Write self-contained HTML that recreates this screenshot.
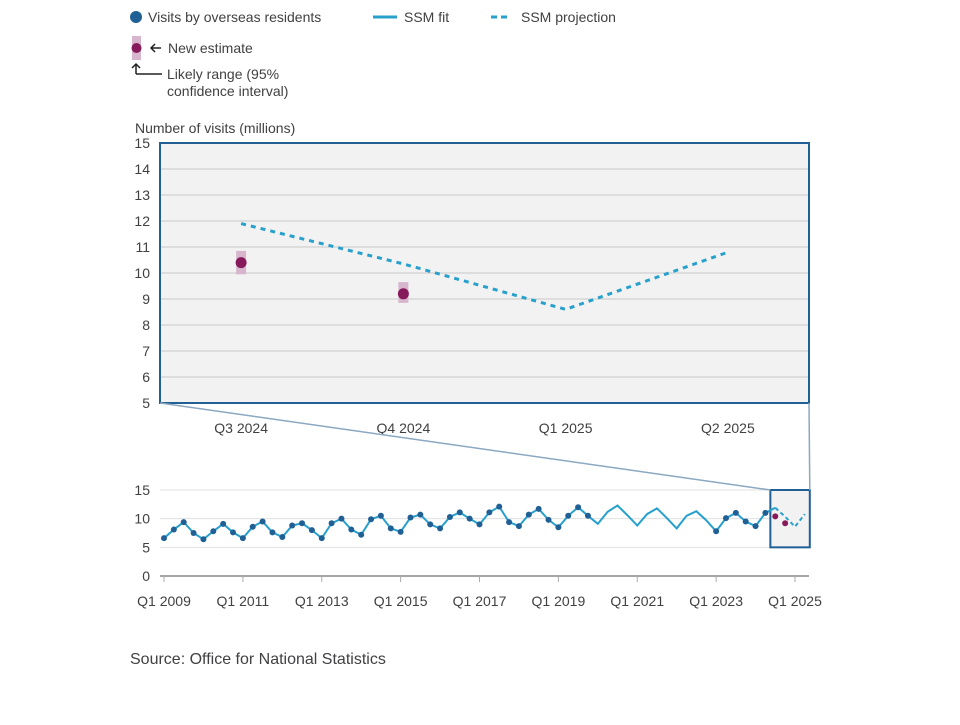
<!DOCTYPE html>
<html><head><meta charset="utf-8"><style>
body{margin:0;background:#fff;width:960px;height:720px;overflow:hidden;font-family:"Liberation Sans",sans-serif}
svg text{font-family:"Liberation Sans",sans-serif;fill:#414042}
</style></head><body>
<svg id="c" width="960" height="720"></svg>
<script>
const fitVals=[6.6,8.1,9.4,7.5,6.4,7.8,9.1,7.6,6.6,8.6,9.5,7.6,6.8,8.8,9.2,8.0,6.6,9.2,10.0,8.1,7.2,9.9,10.5,8.3,7.7,10.2,10.7,9.0,8.3,10.3,11.1,10.0,
9.0,11.1,12.1,9.4,8.7,10.7,11.7,9.8,8.5,10.5,12.0,10.5,9.1,11.2,12.3,10.6,8.8,10.8,11.8,10.1,8.3,10.5,11.3,9.7,7.8,10.1,11.0,9.5,8.7,11.0,11.9];
const observedFrom=[0,56];
const observedTo=[43,61];
const projVals=[11.9,10.35,8.6,10.8];
const estVals=[10.4,9.2];
const estLow=[9.95,8.85];
const estHigh=[10.85,9.65];
const topTicks=[5,6,7,8,9,10,11,12,13,14,15];
const topLabels=["Q3 2024","Q4 2024","Q1 2025","Q2 2025"];
const botTicks=[0,5,10,15];
const botLabels=["Q1 2009","Q1 2011","Q1 2013","Q1 2015","Q1 2017","Q1 2019","Q1 2021","Q1 2023","Q1 2025"];

const svg=document.getElementById('c');const NS="http://www.w3.org/2000/svg";
function mk(tag,a,p){const e=document.createElementNS(NS,tag);for(const k in a)e.setAttribute(k,a[k]);(p||svg).appendChild(e);return e;}
function tx(x,y,s,a){const e=mk('text',Object.assign({x:x,y:y,'font-size':14},a||{}));e.textContent=s;return e;}

let e;
e=mk('circle',{cx:136,cy:17,r:6,fill:'#206095'});
e=tx(148,22,'Visits by overseas residents');
e=mk('line',{x1:373,y1:17,x2:397,y2:17,stroke:'#27a0cc','stroke-width':3});
e=tx(404,22,'SSM fit');
e=mk('line',{x1:491,y1:17,x2:511,y2:17,stroke:'#27a0cc','stroke-width':3,'stroke-dasharray':'6,4'});
e=tx(521,22,'SSM projection');
e=mk('rect',{x:132,y:36,width:9,height:24,fill:'#d7b6cd'});
e=mk('circle',{cx:136.5,cy:48,r:5,fill:'#871a5b'});
e=mk('path',{d:'M151 48 H161 M155 44 L151 48 L155 52',stroke:'#222',fill:'none','stroke-width':1.5});
e=tx(168,53,'New estimate');
e=mk('path',{d:'M136 74 V64 M132 68 L136 64 L140 68 M136 74 H162',stroke:'#222',fill:'none','stroke-width':1.5});
e=tx(167,79,'Likely range (95%');
e=tx(167,96,'confidence interval)');
e=tx(135,133,'Number of visits (millions)',{fill:'#555'});

const tX0=160,tX1=809,tY0=143,tY1=403;
const tx_=i=>tX0+(tX1-tX0)*(i+0.5)/4;
const ty=v=>tY1-(v-5)*(tY1-tY0)/10;
e=mk('rect',{x:tX0,y:tY0,width:tX1-tX0,height:tY1-tY0,fill:'#f2f2f2'});
topTicks.forEach(v=>{
 e=mk('line',{x1:tX0,x2:tX1,y1:ty(v),y2:ty(v),stroke:'#c8c8c8'});
 e=tx(150,ty(v)+5,String(v),{'text-anchor':'end',fill:'#555'});
});
topLabels.forEach((s,i)=>{e=tx(tx_(i),433,s,{'text-anchor':'middle',fill:'#555'});});
e=mk('polyline',{points:projVals.map((v,i)=>tx_(i)+','+ty(v)).join(' '),fill:'none',stroke:'#27a0cc','stroke-width':3,'stroke-dasharray':'5,5'});
estVals.forEach((v,i)=>{
 e=mk('rect',{x:tx_(i)-5,y:ty(estHigh[i]),width:10,height:ty(estLow[i])-ty(estHigh[i]),fill:'#d7b6cd'});
 e=mk('circle',{cx:tx_(i),cy:ty(v),r:5.5,fill:'#871a5b'});
});
e=mk('rect',{x:tX0,y:tY0,width:tX1-tX0,height:tY1-tY0,fill:'none',stroke:'#206095','stroke-width':2});

const bX0=164,bStep=(795-164)/64,bY0=576,bU=(576-490)/15;
const bx=i=>bX0+i*bStep;
const by=v=>bY0-v*bU;
botTicks.forEach(v=>{
 e=mk('line',{x1:160,x2:809,y1:by(v),y2:by(v),stroke:v?'#e0e0e0':'#888','stroke-width':v?1:1.5});
 e=tx(150,by(v)+5,String(v),{'text-anchor':'end',fill:'#555'});
});
botLabels.forEach((s,i)=>{
 e=mk('line',{x1:bx(i*8),x2:bx(i*8),y1:576,y2:582,stroke:'#aaa'});
 e=tx(bx(i*8),606,s,{'text-anchor':'middle',fill:'#555'});
});
const bi0=fitVals.length-1;
e=mk('rect',{x:bx(bi0-0.5),y:by(15),width:bx(bi0+3.5)-bx(bi0-0.5),height:by(5)-by(15),fill:'#f2f2f2',stroke:'#206095','stroke-width':2});
e=mk('line',{x1:tX0,y1:tY1,x2:bx(bi0-0.5),y2:by(15),stroke:'#8aa8c0','stroke-width':1.5});
e=mk('line',{x1:tX1,y1:tY1,x2:bx(bi0+3.5),y2:by(15),stroke:'#8aa8c0','stroke-width':1.5});
e=mk('polyline',{points:fitVals.map((v,i)=>bx(i)+','+by(v)).join(' '),fill:'none',stroke:'#27a0cc','stroke-width':2});
e=mk('polyline',{points:projVals.map((v,i)=>bx(bi0+i)+','+by(v)).join(' '),fill:'none',stroke:'#27a0cc','stroke-width':2,'stroke-dasharray':'4,3'});
observedFrom.forEach((a,k)=>{for(let i=a;i<=observedTo[k];i++){
 e=mk('circle',{cx:bx(i),cy:by(fitVals[i]),r:3,fill:'#206095'});
}});
estVals.forEach((v,i)=>{e=mk('circle',{cx:bx(bi0+i),cy:by(v),r:3,fill:'#871a5b'});});

e=tx(130,664,'Source: Office for National Statistics',{'font-size':16,fill:'#555'});
</script>
</body></html>
